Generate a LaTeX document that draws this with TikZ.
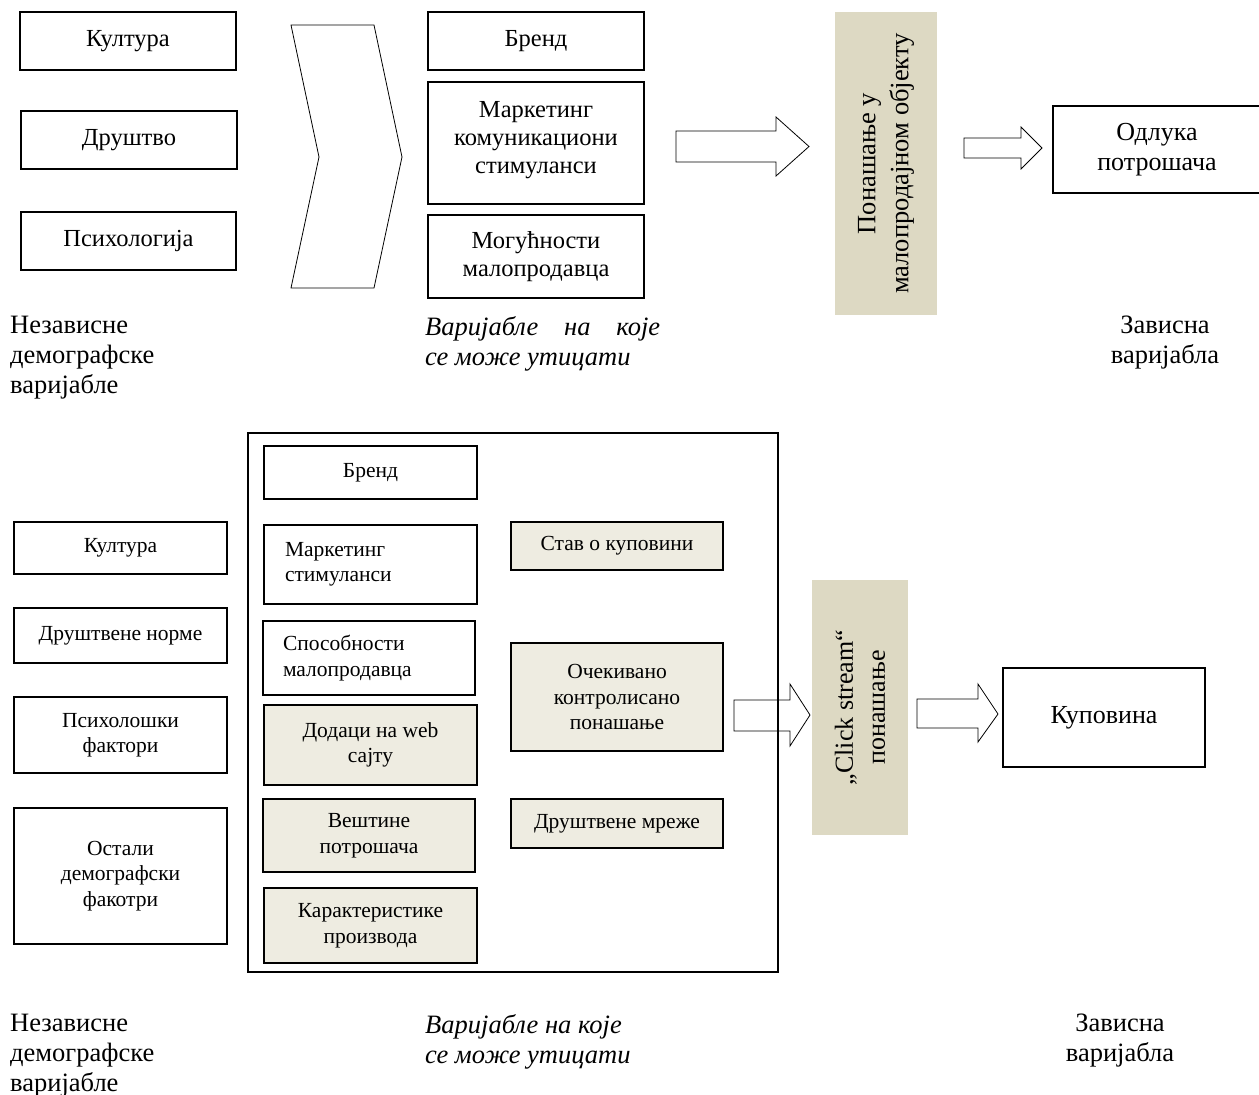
\documentclass[tikz,border=0pt]{standalone}
\usepackage{fontspec}
\setmainfont{Liberation Serif}
\definecolor{tanfill}{HTML}{DDD9C3}
\definecolor{lighttan}{HTML}{EEECE1}
\begin{document}
\begin{tikzpicture}[x=1pt,y=-1pt,
  box/.style={draw, line width=1.6pt, inner sep=0pt, align=center, font=\fontsize{24.5}{28}\selectfont},
  bbox/.style={draw, line width=1.5pt, inner sep=0pt, align=center, font=\fontsize{21.5}{25.5}\selectfont},
  fbox/.style={bbox, fill=lighttan},
  tanbox/.style={fill=tanfill, inner sep=0pt, align=center, rotate=90, font=\fontsize{26.5}{33}\selectfont},
  lbl/.style={inner sep=0pt, anchor=north west, align=left, font=\fontsize{26.5}{30}\selectfont},
  blockarrow/.style={draw=black, line width=0.8pt, line join=miter},
]
\useasboundingbox (0,0) rectangle (1259,1095);

% ---------- top diagram ----------
\node[box, minimum width=216pt, minimum height=58pt] (kult) at (128,41) {Култура};
\node[box, minimum width=216pt, minimum height=58pt] (drus) at (129,140) {Друштво};
\node[box, minimum width=215pt, minimum height=58pt] (psih) at (128.5,241) {Психологија};

\draw[line width=0.8pt] (291,25) -- (374,25) -- (402,157) -- (374,288) -- (291,288) -- (319,157) -- cycle;

\node[box, minimum width=216pt, minimum height=58pt] (brend) at (536,41) {Бренд};
\node[box, minimum width=216pt, minimum height=122pt] (mark) at (536,143) {};
\node[font=\fontsize{24.5}{28}\selectfont, align=center, inner sep=0pt] (marktext) at (536,140) {Маркетинг\\комуникациони\\стимуланси};
\node[box, minimum width=216pt, minimum height=83pt] (mog) at (536,256.5) {Могућности\\малопродавца};

\draw[blockarrow] (676,131) -- (776,131) -- (776,117) -- (809,146.5) -- (776,176) -- (776,162) -- (676,162) -- cycle;

\node[tanbox, minimum width=303pt, minimum height=102pt] (beh) at (886,163.5) {Понашање у\\малопродајном објекту};

\draw[blockarrow] (964,138) -- (1021,138) -- (1021,127) -- (1042,148) -- (1021,169) -- (1021,158) -- (964,158) -- cycle;

\node[box, font=\fontsize{26}{30}\selectfont, minimum width=208pt, minimum height=87pt] (odl) at (1157,149.5) {Одлука\\потрошача};

\node[lbl] (l1) at (10,316) {Независне\\демографске\\варијабле};
\node[lbl, font=\fontsize{26.5}{30}\selectfont\itshape] (l2) at (425,316) {\makebox[235pt][s]{Варијабле на које}\\се може утицати};
\node[lbl, anchor=north, align=center] (l3) at (1165,316) {Зависна\\варијабла};

% ---------- bottom diagram ----------
\node[draw, line width=1.3pt, minimum width=530pt, minimum height=539pt, inner sep=0pt] (frame) at (513,702.5) {};

\node[bbox, minimum width=213pt, minimum height=52pt] (bkult) at (120.5,548) {Култура};
\node[bbox, minimum width=213pt, minimum height=55pt] (bdrn) at (120.5,635.5) {Друштвене норме};
\node[bbox, minimum width=213pt, minimum height=76pt] (bpsf) at (120.5,735) {Психолошки\\фактори};
\node[bbox, minimum width=213pt, minimum height=136pt] (bost) at (120.5,876) {Остали\\демографски\\факотри};

\node[bbox, minimum width=213pt, minimum height=53pt] (bbrend) at (370.5,472.5) {Бренд};
\node[bbox, align=left, text width=171pt, minimum width=213pt, minimum height=79pt] (bmark) at (370.5,564.5) {Маркетинг\\стимуланси};
\node[bbox, align=left, text width=172pt, minimum width=212pt, minimum height=74pt] (bspos) at (369,658) {Способности\\малопродавца};
\node[fbox, minimum width=213pt, minimum height=80pt] (bdod) at (370.5,745) {Додаци на web\\сајту};
\node[fbox, minimum width=212pt, minimum height=73pt] (bvest) at (369,835.5) {Вештине\\потрошача};
\node[fbox, minimum width=213pt, minimum height=75pt] (bkar) at (370.5,925.5) {Карактеристике\\производа};

\node[fbox, minimum width=212pt, minimum height=48pt] (bstav) at (617,546) {Став о куповини};
\node[fbox, minimum width=212pt, minimum height=108pt] (boce) at (617,697) {Очекивано\\контролисано\\понашање};
\node[fbox, minimum width=212pt, minimum height=49pt] (bdrm) at (617,823.5) {Друштвене мреже};

\draw[blockarrow] (734,700) -- (790,700) -- (790,684) -- (810,715) -- (790,746) -- (790,731) -- (734,731) -- cycle;

\node[tanbox, font=\fontsize{26}{32}\selectfont, minimum width=255pt, minimum height=96pt] (click) at (860,707.5) {„Click stream“\\понашање};

\draw[blockarrow] (917,699) -- (978,699) -- (978,684) -- (998,714) -- (978,742) -- (978,728) -- (917,728) -- cycle;

\node[box, line width=1.5pt, font=\fontsize{26}{30}\selectfont, minimum width=202pt, minimum height=99pt] (kup) at (1104,717.5) {Куповина};

\node[lbl] (bl1) at (10,1014) {Независне\\демографске\\варијабле};
\node[lbl, font=\fontsize{26.5}{30}\selectfont\itshape] (bl2) at (425,1014) {Варијабле на које\\се може утицати};
\node[lbl, anchor=north, align=center] (bl3) at (1120,1014) {Зависна\\варијабла};
\end{tikzpicture}
\end{document}
